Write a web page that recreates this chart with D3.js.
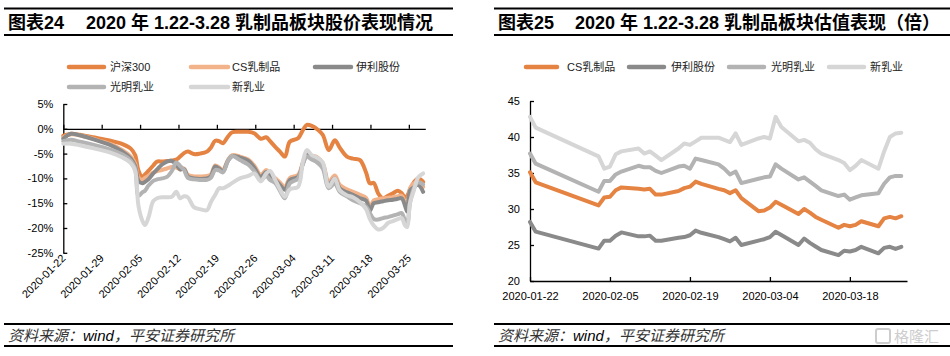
<!DOCTYPE html>
<html><head><meta charset="utf-8">
<script src="https://cdn.jsdelivr.net/npm/d3@7"></script>
<style>body{margin:0;background:#fff}svg{display:block}</style>
</head><body><svg id="c" width="950" height="356"></svg>
<script>
// ---------- LEFT chart data (calendar-day offset from 2020-01-22, % change) ----------
const leftDays = [0,1.4,3.0,5.4,8.6,10.8,12.3,13.1,13.7,14.4,14.9,15.5,16.4,17.1,18.0,18.9,19.8,20.6,21.3,22.0,22.7,23.8,24.9,26.2,26.9,27.7,28.4,29.1,30.0,30.8,32.2,33.7,34.8,36.0,37.0,37.7,38.6,39.5,40.4,41.3,42.8,43.7,44.4,45.3,46.2,47.3,48.4,49.5,50.4,51.7,52.8,54.1,55.2,55.9,56.6,57.4,58.3,59.2,60.1,61.0,61.7,62.3,62.7,63.2,63.9,64.7,65.6];
const hs300 = [-1.4,-1.0,-1.2,-1.7,-2.4,-3.1,-4.0,-5.3,-8.4,-9.7,-9.2,-8.5,-7.4,-6.6,-6.6,-6.5,-6.4,-6.2,-5.6,-4.9,-4.6,-5.1,-5.0,-4.6,-3.8,-2.4,-2.5,-2.9,-1.6,-0.7,-0.6,-0.6,-0.9,-2.0,-1.7,-2.5,-3.6,-4.6,-5.6,-2.6,-1.9,-0.2,0.8,0.6,0.0,-1.2,-4.3,-2.3,-3.8,-5.6,-6.0,-6.3,-8.8,-11.0,-10.9,-13.0,-14.0,-13.5,-13.0,-12.5,-13.0,-13.8,-13.5,-12.3,-10.8,-10.0,-10.7];
const csDairy = [-1.7,-1.1,-1.3,-2.0,-3.1,-4.3,-5.6,-7.0,-9.8,-10.3,-9.9,-9.5,-8.8,-8.5,-8.3,-8.0,-7.7,-7.8,-8.2,-8.0,-9.3,-9.6,-9.6,-9.5,-9.2,-7.4,-7.8,-8.3,-6.3,-5.3,-5.6,-6.2,-7.4,-9.3,-8.3,-9.0,-9.9,-10.8,-11.8,-9.9,-9.3,-6.7,-5.0,-5.4,-5.7,-6.9,-10.7,-9.4,-11.3,-12.2,-12.7,-13.3,-13.9,-15.8,-14.4,-14.2,-14.0,-13.9,-13.8,-13.6,-13.5,-14.8,-15.8,-12.0,-11.0,-10.8,-11.7];
const yili = [-2.0,-1.0,-1.3,-2.1,-3.3,-4.6,-6.0,-7.5,-10.5,-11.0,-10.7,-10.2,-9.0,-8.2,-7.2,-6.6,-6.5,-7.2,-8.2,-8.1,-9.6,-10.0,-10.1,-10.0,-9.6,-7.6,-8.0,-8.6,-6.5,-5.5,-5.8,-6.4,-7.8,-9.7,-8.7,-9.4,-10.3,-11.3,-12.3,-10.3,-9.7,-7.0,-5.3,-5.7,-6.0,-7.3,-11.3,-10.0,-12.0,-12.8,-13.3,-14.0,-14.5,-16.5,-15.0,-14.8,-14.6,-14.4,-14.3,-14.1,-14.0,-15.5,-16.7,-12.5,-11.8,-11.3,-12.7];
const bright = [-2.5,-2.2,-2.6,-3.2,-4.2,-5.2,-6.4,-8.0,-13.5,-12.8,-12.5,-11.5,-10.5,-10.2,-10.0,-9.7,-8.5,-6.8,-7.5,-8.3,-9.9,-10.2,-10.3,-10.3,-9.9,-8.3,-8.4,-8.8,-6.5,-5.5,-6.3,-7.2,-8.5,-10.3,-9.5,-10.3,-10.9,-12.5,-14.0,-11.0,-10.0,-7.0,-5.6,-6.2,-6.7,-8.0,-12.0,-11.0,-12.7,-13.6,-14.4,-15.0,-15.7,-17.0,-18.2,-18.3,-18.0,-17.8,-17.5,-17.2,-17.0,-18.5,-19.0,-15.0,-12.0,-10.8,-11.2];
const newHope = [-3.0,-3.0,-3.3,-3.9,-4.8,-5.8,-6.9,-8.5,-15.5,-18.5,-19.4,-18.0,-14.6,-14.0,-13.8,-13.8,-13.7,-12.7,-14.0,-13.6,-13.8,-15.8,-16.2,-16.4,-14.8,-13.3,-12.0,-12.0,-11.5,-10.9,-10.0,-9.5,-9.0,-10.6,-9.0,-8.5,-10.2,-12.2,-13.7,-12.2,-11.7,-6.5,-4.3,-5.3,-5.8,-6.8,-11.7,-10.0,-12.4,-13.4,-13.8,-14.8,-16.2,-18.2,-19.5,-20.3,-20.0,-19.0,-18.6,-18.2,-18.0,-19.5,-19.8,-15.0,-12.5,-9.8,-9.0];
const leftTickDays = [0,7,14,21,28,35,42,49,56,63];
const leftTickLabels = ["2020-01-22","2020-01-29","2020-02-05","2020-02-12","2020-02-19","2020-02-26","2020-03-04","2020-03-11","2020-03-18","2020-03-25"];
const leftYTicks = [5,0,-5,-10,-15,-20,-25];
const leftNames = ["沪深300","CS乳制品","伊利股份","光明乳业","新乳业"];

// ---------- RIGHT chart data (PE, x) ----------
const rightDates = ["2020-01-22","2020-01-23","2020-02-03","2020-02-04","2020-02-05","2020-02-06","2020-02-07","2020-02-10","2020-02-11","2020-02-12","2020-02-13","2020-02-14","2020-02-17","2020-02-18","2020-02-19","2020-02-20","2020-02-21","2020-02-24","2020-02-25","2020-02-26","2020-02-27","2020-02-28","2020-03-02","2020-03-03","2020-03-04","2020-03-05","2020-03-06","2020-03-09","2020-03-10","2020-03-11","2020-03-12","2020-03-13","2020-03-16","2020-03-17","2020-03-18","2020-03-19","2020-03-20","2020-03-23","2020-03-24","2020-03-25","2020-03-26","2020-03-27"];
const csDairyPE = [35.1,33.7,30.5,31.6,31.7,32.6,33.0,32.8,32.7,32.8,32.0,32.0,32.5,32.9,33.1,33.8,33.5,32.8,32.6,32.2,32.6,31.5,29.7,29.8,30.2,31.0,30.6,29.3,30.0,29.5,28.9,28.5,27.4,27.8,27.6,27.8,28.3,27.6,28.7,28.9,28.7,29.0];
const yiliPE = [28.2,26.85,24.5,25.6,25.6,26.3,26.75,26.2,26.2,26.3,25.6,25.6,26.0,26.1,26.35,27.0,26.7,26.1,25.8,25.5,26.0,25.0,25.6,25.8,26.1,26.85,26.4,25.0,25.9,25.3,24.8,24.3,23.6,24.2,24.1,24.3,24.75,23.85,24.6,24.75,24.45,24.75];
const brightPE = [37.7,36.3,32.4,33.9,33.9,34.8,35.2,36.0,35.8,35.8,35.3,35.0,35.9,36.0,35.6,37.0,36.8,36.2,35.6,34.8,35.2,33.6,34.2,34.4,34.5,36.2,35.6,34.1,34.4,33.8,33.2,32.6,31.8,32.0,31.3,31.6,31.9,32.2,33.5,34.4,34.6,34.6];
const newHopePE = [42.8,41.3,37.3,35.6,35.9,37.6,38.0,38.4,37.7,38.0,37.4,36.8,38.4,39.1,38.9,39.4,39.9,39.9,39.6,39.3,40.5,38.9,39.8,40.0,39.8,42.8,41.4,39.4,39.6,39.2,38.3,37.7,36.8,36.4,35.4,36.0,36.8,35.6,38.0,40.0,40.5,40.6];
const rightTickDates = ["2020-01-22","2020-02-05","2020-02-19","2020-03-04","2020-03-18"];
const rightYTicks = [20,25,30,35,40,45];
const rightNames = ["CS乳制品","伊利股份","光明乳业","新乳业"];

const FONT = "'Liberation Sans', Arial, 'Noto Sans CJK SC', sans-serif";
const C_HS = "#E58343", C_CSL = "#F2B28A", C_YL = "#8A8A8A", C_GM = "#B3B3B3", C_XR = "#D6D6D6";

const svg = d3.select("#c").style("font-family", FONT);

function frame(x0, x1, tx, title1, title2, t2x) {
  const g = svg.append("g");
  [8.5, 35].forEach(y => g.append("line").attr("x1", x0).attr("x2", x1).attr("y1", y).attr("y2", y).attr("stroke", "#000").attr("stroke-width", 2.2));
  [324, 346].forEach(y => g.append("line").attr("x1", x0).attr("x2", x1).attr("y1", y).attr("y2", y).attr("stroke", "#000").attr("stroke-width", 2));
  g.append("text").attr("x", tx).attr("y", 29).attr("font-size", 18).attr("font-weight", "bold").attr("fill", "#000").text(title1);
  g.append("text").attr("x", t2x).attr("y", 29).attr("font-size", 18).attr("font-weight", "bold").attr("fill", "#000").text(title2);
  const f = g.append("text").attr("x", tx).attr("y", 341).attr("font-size", 15).attr("font-style", "italic").attr("fill", "#222");
  f.append("tspan").attr("fill", "#333").text("资料来源：");
  f.append("tspan").attr("fill", "#000").text("wind");
  f.append("tspan").attr("fill", "#333").text("，平安证券研究所");
}
frame(4, 453, 8, "图表24", "2020 年 1.22-3.28 乳制品板块股价表现情况", 86);
frame(494, 950, 498, "图表25", "2020 年 1.22-3.28 乳制品板块估值表现（倍）", 575);

function legendItem(x1, x2, tx, y, color, label) {
  svg.append("line").attr("x1", x1).attr("x2", x2).attr("y1", y).attr("y2", y)
    .attr("stroke", color).attr("stroke-width", 4.5).attr("stroke-linecap", "round");
  svg.append("text").attr("x", tx).attr("y", y + 4).attr("font-size", 11).attr("fill", "#222").text(label);
}

// ---------- LEFT chart ----------
const lx = d3.scaleLinear().domain([0, 66]).range([63.3, 425.3]);
const ly = d3.scaleLinear().domain([-25, 5]).range([252.8, 104]);
const leftSeries = [hs300, csDairy, yili, bright, newHope];
const leftColors = [C_HS, C_CSL, C_YL, C_GM, C_XR];
legendItem(69, 104, 110, 67, leftColors[0], leftNames[0]);
legendItem(191, 228, 232, 67, leftColors[1], leftNames[1]);
legendItem(315, 351, 356, 67, leftColors[2], leftNames[2]);
legendItem(69, 104, 110, 87, leftColors[3], leftNames[3]);
legendItem(191, 228, 232, 87, leftColors[4], leftNames[4]);

svg.append("g").attr("transform", "translate(63.3,0)")
  .call(d3.axisLeft(ly).tickValues(leftYTicks).tickSize(-4).tickSizeOuter(0).tickPadding(10).tickFormat(d => d + "%"));
svg.append("g").attr("transform", `translate(0,${ly(0)})`)
  .call(d3.axisBottom(lx).tickValues(leftTickDays).tickSize(-4).tickSizeOuter(0).tickFormat(""));
svg.append("g").selectAll("text").data(leftTickDays).join("text")
  .attr("transform", (d) => `translate(${lx(d) + 3},${259}) rotate(-45)`)
  .attr("text-anchor", "end").attr("font-size", 11).attr("fill", "#000")
  .text((d, i) => leftTickLabels[i]);

const lineL = d3.line().x((d) => lx(d[0])).y((d) => ly(d[1])).curve(d3.curveCatmullRom.alpha(0.5));
leftSeries.forEach((s, i) => {
  svg.append("path").datum(leftDays.map((d, j) => [d, s[j]]))
    .attr("d", lineL).attr("fill", "none").attr("stroke", leftColors[i])
    .attr("stroke-width", 4).attr("stroke-linejoin", "round").attr("stroke-linecap", "round");
});

// ---------- RIGHT chart ----------
const parse = d3.utcParse("%Y-%m-%d");
const rx = d3.scaleUtc().domain([parse("2020-01-22"), parse("2020-03-28")]).range([530, 907]);
const ry = d3.scaleLinear().domain([20, 45]).range([281, 101]);
const rightSeries = [csDairyPE, yiliPE, brightPE, newHopePE];
const rightColors = [C_HS, C_YL, C_GM, C_XR];
legendItem(526, 557, 567, 67, rightColors[0], rightNames[0]);
legendItem(629, 664, 671, 67, rightColors[1], rightNames[1]);
legendItem(729, 764, 771, 67, rightColors[2], rightNames[2]);
legendItem(829, 864, 870, 67, rightColors[3], rightNames[3]);

svg.append("g").attr("transform", "translate(530,0)")
  .call(d3.axisLeft(ry).tickValues(rightYTicks).tickSize(-4).tickSizeOuter(0).tickPadding(10));
svg.append("g").attr("transform", "translate(0,281)")
  .call(d3.axisBottom(rx).tickValues(rightTickDates.map(parse)).tickSize(-4).tickSizeOuter(0).tickPadding(11)
    .tickFormat(d3.utcFormat("%Y-%m-%d")));

const lineR = d3.line().x((d) => rx(d[0])).y((d) => ry(d[1])).curve(d3.curveLinear);
rightSeries.forEach((s, i) => {
  svg.append("path").datum(rightDates.map((d, j) => [parse(d), s[j]]))
    .attr("d", lineR).attr("fill", "none").attr("stroke", rightColors[i])
    .attr("stroke-width", 4).attr("stroke-linejoin", "round").attr("stroke-linecap", "round");
});

// axis styling
svg.selectAll(".domain, .tick line").attr("stroke", "#000").attr("stroke-width", 1.3);
svg.selectAll(".tick text").attr("font-size", 11).attr("fill", "#000").style("font-family", FONT);

// watermark
const wm = svg.append("g").attr("opacity", 0.9);
wm.append("rect").attr("x", 876).attr("y", 329).attr("width", 14).attr("height", 14).attr("rx", 2)
  .attr("fill", "none").attr("stroke", "#c8c8c8").attr("stroke-width", 2);
wm.append("text").attr("x", 894).attr("y", 342).attr("font-size", 15).attr("fill", "#c8c8c8").text("格隆汇");
</script></body></html>
